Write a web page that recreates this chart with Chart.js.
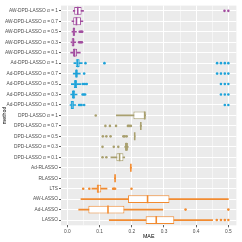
<!DOCTYPE html>
<html>
<head>
<meta charset="utf-8">
<script src="https://cdn.jsdelivr.net/npm/chart.js@4.4.1/dist/chart.umd.min.js"></script>
<style>
  html, body { margin: 0; padding: 0; background: #fff; }
</style>
</head>
<body>
<canvas id="chart" width="242" height="242"></canvas>
<script>
// Methods, top to bottom
const methods = [
    'AW-DPD-LASSO α = 1', 'AW-DPD-LASSO α = 0.7', 'AW-DPD-LASSO α = 0.5', 'AW-DPD-LASSO α = 0.3', 'AW-DPD-LASSO α = 0.1',
    'Ad-DPD-LASSO α = 1', 'Ad-DPD-LASSO α = 0.7', 'Ad-DPD-LASSO α = 0.5', 'Ad-DPD-LASSO α = 0.3', 'Ad-DPD-LASSO α = 0.1',
    'DPD-LASSO α = 1', 'DPD-LASSO α = 0.7', 'DPD-LASSO α = 0.5', 'DPD-LASSO α = 0.3', 'DPD-LASSO α = 0.1',
    'Ad-RLASSO', 'RLASSO', 'LTS', 'AW-LASSO', 'Ad-LASSO', 'LASSO'
];

// Box plot statistics (MAE)
const lowWhisker  = [0.018, 0.014, 0.014, 0.011, 0.010, 0.020, 0.018, 0.012, 0.010, 0.008, 0.152, 0.226, 0.208, 0.178, 0.135, 0.195, 0.146, 0.076, 0.042, 0.035, 0.130];
const q1          = [0.021, 0.018, 0.016, 0.013, 0.017, 0.026, 0.024, 0.020, 0.014, 0.010, 0.205, 0.227, 0.208, 0.179, 0.152, 0.196, 0.147, 0.091, 0.188, 0.065, 0.243];
const median      = [0.032, 0.028, 0.020, 0.018, 0.022, 0.032, 0.028, 0.025, 0.019, 0.014, 0.240, 0.228, 0.209, 0.183, 0.162, 0.197, 0.148, 0.095, 0.249, 0.126, 0.276];
const q3          = [0.044, 0.042, 0.024, 0.022, 0.030, 0.038, 0.032, 0.030, 0.024, 0.020, 0.243, 0.229, 0.210, 0.188, 0.174, 0.198, 0.149, 0.105, 0.317, 0.177, 0.332];
const highWhisker = [0.050, 0.048, 0.028, 0.026, 0.040, 0.046, 0.040, 0.042, 0.030, 0.026, 0.243, 0.230, 0.210, 0.189, 0.178, 0.199, 0.150, 0.123, 0.500, 0.296, 0.451];
const outliers = [
    [0.488, 0.5],
    [],
    [0.038, 0.041, 0.044, 0.046],
    [0.036, 0.039, 0.042, 0.045],
    [],
    [0.056, 0.115, 0.465, 0.477, 0.489, 0.5],
    [0.052, 0.465, 0.477, 0.489, 0.5],
    [0.048, 0.054, 0.060, 0.477, 0.489, 0.5],
    [0.047, 0.051, 0.055, 0.477, 0.489, 0.5],
    [0.036, 0.040, 0.044, 0.052, 0.489, 0.5],
    [0.088],
    [0.118, 0.132, 0.151, 0.188, 0.192, 0.197],
    [0.110, 0.121, 0.134, 0.174, 0.178, 0.184],
    [0.109, 0.144, 0.158],
    [0.109, 0.121],
    [],
    [],
    [0.049, 0.068, 0.142, 0.145, 0.148, 0.199],
    [],
    [0.367, 0.5],
    [0.464, 0.477, 0.489, 0.5]
];

// x axis ticks (majors are labelled)
const xTicks = [0, 0.05, 0.1, 0.15, 0.2, 0.25, 0.3, 0.35, 0.4, 0.45, 0.5];

// Colours per method family
const purple = '#A24D9F', blue = '#1FA3D9', olive = '#A9A06F', orange = '#F28B30';
const methodColors = methods.map((m, i) => i < 5 ? purple : i < 10 ? blue : i < 15 ? olive : orange);

const isMajor = v => Math.abs(v * 10 - Math.round(v * 10)) < 1e-6;
const tickFont = { family: 'Liberation Sans', size: 4.8 };
const titleFont = { family: 'Liberation Sans', size: 5.3 };

// Grey ggplot-like panel background
const panelBackground = {
    id: 'panelBackground',
    beforeDraw(chart) {
        const { ctx, chartArea: a } = chart;
        ctx.save();
        ctx.fillStyle = '#EBEBEB';
        ctx.fillRect(a.left, a.top, a.right - a.left, a.bottom - a.top);
        ctx.restore();
    }
};

const outlierPoints = [];
outliers.forEach((list, i) => list.forEach(v => outlierPoints.push({ x: v, y: methods[i] })));

new Chart(document.getElementById('chart'), {
    type: 'bar',
    data: {
        labels: methods,
        datasets: [
            {
                type: 'scatter',
                data: outlierPoints,
                pointRadius: 1.3,
                pointBorderWidth: 0,
                pointBackgroundColor: ctx => methodColors[methods.indexOf(ctx.raw.y)],
                order: 0
            },
            {
                type: 'scatter',
                data: methods.map((m, i) => ({ x: median[i], y: m })),
                pointStyle: 'line',
                pointRotation: 90,
                pointRadius: 4,
                pointBorderWidth: 1.6,
                pointBorderColor: methodColors,
                order: 1
            },
            {
                data: methods.map((m, i) => [q1[i], q3[i]]),
                backgroundColor: '#FFFFFF',
                borderColor: methodColors,
                borderWidth: 1,
                borderSkipped: false,
                barPercentage: 0.75,
                categoryPercentage: 1,
                grouped: false,
                order: 2
            },
            {
                data: methods.map((m, i) => [lowWhisker[i], highWhisker[i]]),
                backgroundColor: methodColors,
                borderWidth: 0,
                barThickness: 1,
                grouped: false,
                order: 3
            }
        ]
    },
    options: {
        indexAxis: 'y',
        responsive: false,
        animation: false,
        events: [],
        layout: { padding: { top: 2.5, right: 2.3, left: 0, bottom: 0 } },
        plugins: { legend: { display: false }, tooltip: { enabled: false } },
        scales: {
            x: {
                type: 'linear',
                min: -0.02,
                max: 0.525,
                afterBuildTicks: s => { s.ticks = xTicks.map(v => ({ value: v })); },
                afterFit: s => { s.height = 16.7; },
                border: { display: false },
                grid: {
                    color: '#FFFFFF',
                    lineWidth: ctx => isMajor(ctx.tick.value) ? 1 : 0.5,
                    tickColor: ctx => isMajor(ctx.tick.value) ? '#333333' : 'rgba(0,0,0,0)',
                    tickLength: 2,
                    tickWidth: 0.8
                },
                ticks: {
                    autoSkip: false,
                    maxRotation: 0,
                    padding: 1,
                    font: tickFont,
                    color: '#4D4D4D',
                    callback: v => isMajor(v) ? v.toFixed(1) : ''
                },
                title: { display: true, text: 'MAE', font: titleFont, color: '#000000', padding: { top: 0, bottom: 1.8 } }
            },
            y: {
                type: 'category',
                offset: true,
                afterFit: s => { s.width = 61; },
                border: { display: false },
                grid: { offset: false, color: '#FFFFFF', lineWidth: 1, tickColor: '#333333', tickLength: 2, tickWidth: 0.8 },
                ticks: { autoSkip: false, padding: 1, font: tickFont, color: '#4D4D4D' },
                title: { display: true, text: 'method', font: titleFont, color: '#000000', padding: { top: 1.5, bottom: 1 } }
            }
        }
    },
    plugins: [panelBackground]
});
</script>
</body>
</html>
